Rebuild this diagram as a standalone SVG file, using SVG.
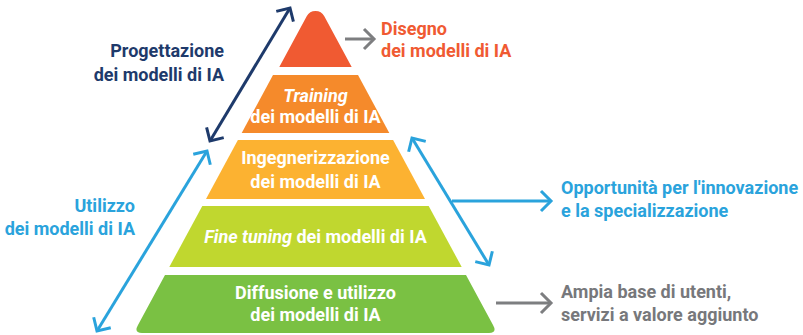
<svg xmlns="http://www.w3.org/2000/svg" width="803" height="335" viewBox="0 0 803 335">
<style>
  text { font-family: Roboto, "Liberation Sans", sans-serif; font-weight: 700; font-size: 18px; }
  .in { fill: #ffffff; text-anchor: middle; }
  .navy { fill: #1E3A6B; }
  .blue { fill: #2AA3DC; }
  .red { fill: #F05A32; }
  .gray { fill: #77787B; }
  .end { text-anchor: end; }
  .it { font-style: italic; }
  .ln { fill: none; stroke-width: 3; }
</style>
<defs>
  <marker id="ah-navy" viewBox="-14 -14 18 28" refX="0" refY="0" markerWidth="18" markerHeight="28" markerUnits="userSpaceOnUse" orient="auto-start-reverse">
    <path d="M-10,-10 L0,0 L-10,10" fill="none" stroke="#1E3A6B" stroke-width="3"/>
  </marker>
  <marker id="ah-blue" viewBox="-14 -14 18 28" refX="0" refY="0" markerWidth="18" markerHeight="28" markerUnits="userSpaceOnUse" orient="auto-start-reverse">
    <path d="M-10,-10 L0,0 L-10,10" fill="none" stroke="#2AA3DC" stroke-width="3"/>
  </marker>
  <marker id="ah-gray" viewBox="-14 -14 18 28" refX="0" refY="0" markerWidth="18" markerHeight="28" markerUnits="userSpaceOnUse" orient="auto-start-reverse">
    <path d="M-10,-10 L0,0 L-10,10" fill="none" stroke="#7D7E80" stroke-width="3"/>
  </marker>
</defs>

<g id="layer-disegno">
  <path d="M279.3,67 L306.7,16.3 A10,10 0 0 1 324.3,16.3 L351.7,67 Z" fill="#F05A32"/>
</g>
<g id="layer-training">
  <path d="M273,75 L358,75 L389.3,133 L241.7,133 Z" fill="#F58A2B"/>
  <text class="in it" x="315.5" y="102">Training</text>
  <text class="in" x="315.5" y="123">dei modelli di IA</text>
</g>
<g id="layer-ingegnerizzazione">
  <path d="M237.9,140 L393.1,140 L425,199 L206,199 Z" fill="#FCB231"/>
  <text class="in" x="315.5" y="164">Ingegnerizzazione</text>
  <text class="in" x="315.5" y="188">dei modelli di IA</text>
</g>
<g id="layer-finetuning">
  <path d="M202.3,206 L428.7,206 L461.7,267 L169.3,267 Z" fill="#C0D72F"/>
  <text class="in" x="315.5" y="243"><tspan class="it">Fine tuning</tspan> dei modelli di IA</text>
</g>
<g id="layer-diffusione">
  <path d="M165,275 L466,275 L493,325 Q497.5,333 489,333 L142,333 Q133.5,333 138,325 Z" fill="#7AC143"/>
  <text class="in" x="315.5" y="299">Diffusione e utilizzo</text>
  <text class="in" x="315.5" y="321">dei modelli di IA</text>
</g>

<g id="label-progettazione">
  <text class="navy end" x="224" y="57">Progettazione</text>
  <text class="navy end" x="224" y="81">dei modelli di IA</text>
</g>
<g id="label-utilizzo">
  <text class="blue end" x="135" y="212">Utilizzo</text>
  <text class="blue end" x="135" y="235">dei modelli di IA</text>
</g>
<g id="label-disegno">
  <text class="red" x="381" y="35">Disegno</text>
  <text class="red" x="381" y="57">dei modelli di IA</text>
</g>
<g id="label-opportunita">
  <text class="blue" x="561" y="194">Opportunità per l'innovazione</text>
  <text class="blue" x="561" y="217">e la specializzazione</text>
</g>
<g id="label-ampia">
  <text class="gray" x="561" y="298">Ampia base di utenti,</text>
  <text class="gray" x="561" y="321">servizi a valore aggiunto</text>
</g>

<g id="connectors">
  <line class="ln" x1="210" y1="141" x2="290" y2="8" stroke="#1E3A6B" marker-start="url(#ah-navy)" marker-end="url(#ah-navy)"/>
  <line class="ln" x1="97" y1="331" x2="207" y2="151" stroke="#2AA3DC" marker-start="url(#ah-blue)" marker-end="url(#ah-blue)"/>
  <line class="ln" x1="412" y1="138" x2="489" y2="265" stroke="#2AA3DC" marker-start="url(#ah-blue)" marker-end="url(#ah-blue)"/>
  <line class="ln" x1="452" y1="201" x2="551" y2="201" stroke="#2AA3DC" marker-end="url(#ah-blue)"/>
  <line class="ln" x1="345" y1="39" x2="374" y2="39" stroke="#7D7E80" marker-end="url(#ah-gray)"/>
  <line class="ln" x1="496" y1="303" x2="551" y2="303" stroke="#7D7E80" marker-end="url(#ah-gray)"/>
</g>
</svg>
